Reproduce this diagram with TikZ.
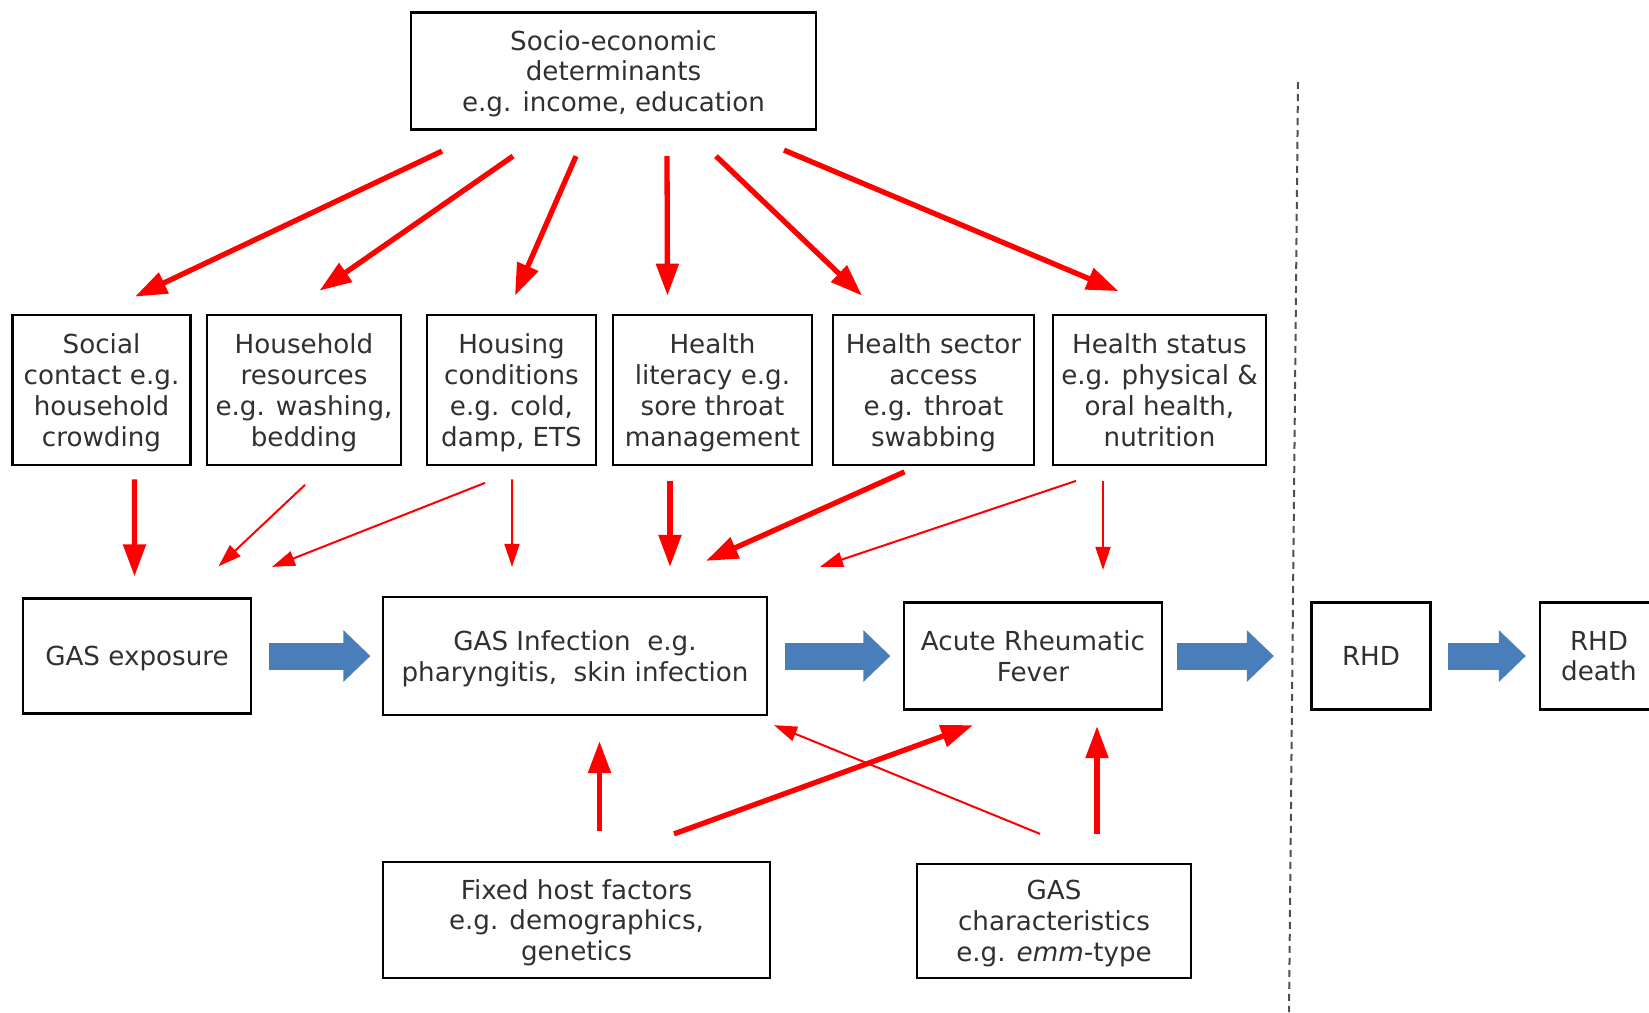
\documentclass[tikz,border=0pt]{standalone}
\usepackage{fontspec}
\setmainfont{DejaVu Sans}
\usetikzlibrary{arrows.meta}
\definecolor{txtgray}{HTML}{303030}
\definecolor{flowblue}{HTML}{4A7EBB}
\definecolor{dashgray}{HTML}{505050}
\begin{document}
\begin{tikzpicture}[x=0.02cm,y=-0.02cm,
    box/.style = {draw=black, line width=1.3pt, inner sep=0pt, align=center, text depth=-1.3pt,
                  text=txtgray, font=\fontsize{14.9}{17.5}\selectfont},
    factor/.style = {box, minimum height=2.99cm, text depth=-4.9pt},
    fat/.style = {red, line width=0.106cm, -{Triangle[length=0.64cm,width=0.44cm]}},
    slim/.style = {red, line width=0.04cm, -{Triangle[length=0.46cm,width=0.30cm]}},
    flow/.style = {flowblue, line width=0.54cm, -{Triangle[length=0.54cm,width=1.0cm]}}]
    \useasboundingbox (0,0) rectangle (1649,1012);

    \node[box, minimum width=8.1cm, minimum height=2.34cm] (socio) at (613.5,71)
        {Socio-economic\\determinants\\e.g. income, education};

    \node[factor, minimum width=3.56cm] (social) at (101.5,390) {Social\\contact e.g.\\household\\crowding};
    \node[factor, minimum width=3.88cm] (household) at (304,390) {Household\\resources\\e.g. washing,\\bedding};
    \node[factor, minimum width=3.38cm] (housing) at (511.5,390) {Housing\\conditions\\e.g. cold,\\damp, ETS};
    \node[factor, minimum width=3.98cm] (literacy) at (712.5,390) {Health\\literacy e.g.\\sore throat\\management};
    \node[factor, minimum width=4.02cm] (sector) at (933.5,390) {Health sector\\access\\e.g. throat\\swabbing};
    \node[factor, minimum width=4.26cm] (status) at (1159.5,390) {Health status\\e.g. physical \&\\oral health,\\nutrition};

    \node[box, minimum width=4.56cm, minimum height=2.3cm] (exposure) at (137,656) {GAS exposure};
    \node[box, minimum width=7.68cm, minimum height=2.36cm] (infection) at (575,656)
        {GAS Infection\ \ e.g.\\pharyngitis,\ \ skin infection};
    \node[box, minimum width=5.16cm, minimum height=2.14cm] (arf) at (1033,656) {Acute Rheumatic\\Fever};
    \node[box, minimum width=2.38cm, minimum height=2.14cm] (rhd) at (1371,656) {RHD};
    \node[box, minimum width=2.36cm, minimum height=2.14cm] (death) at (1599,656) {RHD\\death};

    \node[box, minimum width=7.74cm, minimum height=2.32cm] (host) at (576.5,920)
        {Fixed host factors\\e.g. demographics,\\genetics};
    \node[box, minimum width=5.48cm, minimum height=2.28cm] (gaschar) at (1054,921)
        {GAS\\characteristics\\e.g. \textit{emm}-type};

    \draw[fat] ([shift={(-171.5,20.5)}]socio.south) -- ([shift={(33.5,-17.5)}]social.north);
    \draw[fat] ([shift={(-100.5,25.5)}]socio.south) -- ([shift={(15.5,-23.5)}]household.north);
    \draw[fat] ([shift={(-37.5,25.5)}]socio.south) -- ([shift={(3.5,-18.5)}]housing.north);
    \draw[fat] ([shift={(53.5,25.5)}]socio.south) -- ([shift={(-45,-18.5)}]literacy.north);
    \draw[fat] ([shift={(102.5,25.5)}]socio.south) -- ([shift={(-71.5,-18.5)}]sector.north);
    \draw[fat] ([shift={(170.5,19.5)}]socio.south) -- ([shift={(-41,-23)}]status.north);

    \draw[fat] ([shift={(33,13.5)}]social.south) -- ([shift={(-2.5,-21)}]exposure.north);
    \draw[slim] ([shift={(1,19)}]household.south) -- ([shift={(81.5,-31)}]exposure.north);
    \draw[slim] ([shift={(-26.5,17)}]housing.south) -- ([shift={(135,-30.5)}]exposure.north);
    \draw[slim] ([shift={(0.5,13.5)}]housing.south) -- ([shift={(-63,-29)}]infection.north);
    \draw[fat] ([shift={(-42.5,15)}]literacy.south) -- ([shift={(95,-29)}]infection.north);
    \draw[fat] ([shift={(-29,6)}]sector.south) -- ([shift={(131,-35)}]infection.north);
    \draw[slim] ([shift={(-83.5,15)}]status.south) -- ([shift={(245,-29)}]infection.north);
    \draw[slim] ([shift={(-56.5,15)}]status.south) -- ([shift={(70,-31.5)}]arf.north);

    \draw[fat] ([shift={(23,-30)}]host.north) -- ([shift={(24.5,25)}]infection.south);
    \draw[fat] ([shift={(97.5,-27)}]host.north) -- ([shift={(-60,14.5)}]arf.south);
    \draw[slim] ([shift={(-14,-29)}]gaschar.north) -- ([shift={(199,9)}]infection.south);
    \draw[fat] ([shift={(43,-29)}]gaschar.north) -- ([shift={(64,15.5)}]arf.south);

    \draw[flow, shorten <=0.33cm, shorten >=0.23cm] (exposure.east) -- (exposure.east -| infection.west);
    \draw[flow, shorten <=0.33cm, shorten >=0.25cm] (infection.east) -- (infection.east -| arf.west);
    \draw[flow, shorten <=0.28cm, shorten >=0.73cm] (arf.east) -- (arf.east -| rhd.west);
    \draw[flow, shorten <=0.33cm, shorten >=0.26cm] (rhd.east) -- (rhd.east -| death.west);

    \draw[dashgray, line width=0.04cm, dash pattern=on 0.14cm off 0.1cm] (1298,82) -- (1289,1012);
\end{tikzpicture}
\end{document}
